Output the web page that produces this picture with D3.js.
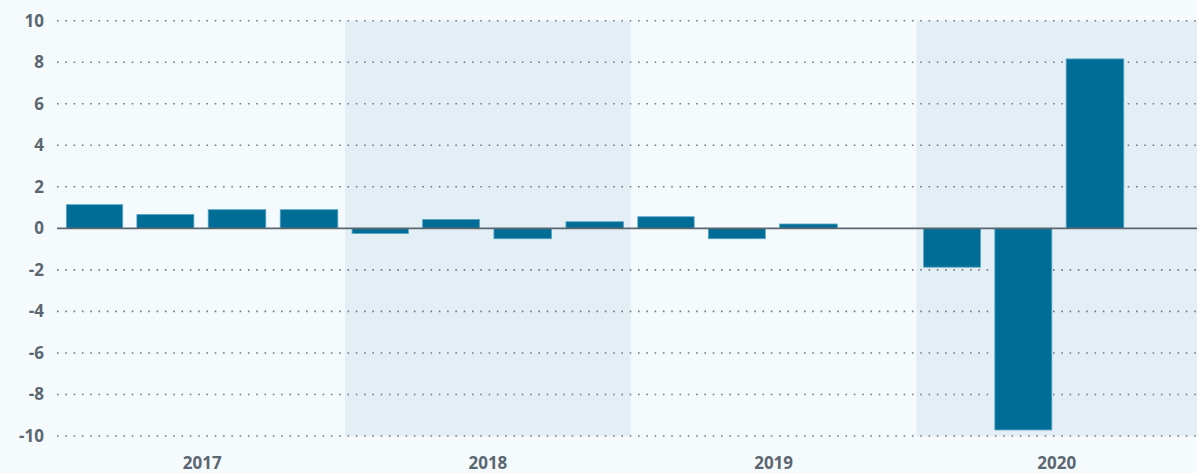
<!DOCTYPE html>
<html>
<head>
<meta charset="utf-8">
<script src="https://cdn.jsdelivr.net/npm/d3@7"></script>
<style>
    body { margin: 0; background: #f5fafd; }
    svg { display: block; }
    text { font-family: "Noto Sans", sans-serif; font-weight: 700; fill: #5b6770; }
</style>
</head>
<body>
<svg width="1197" height="473"></svg>
<script>
// quarterly values, 2017 Q1 .. 2020 Q4 (null = no bar)
const quarters = ["2017-01-01", "2017-04-01", "2017-07-01", "2017-10-01",
    "2018-01-01", "2018-04-01", "2018-07-01", "2018-10-01",
    "2019-01-01", "2019-04-01", "2019-07-01", "2019-10-01",
    "2020-01-01", "2020-04-01", "2020-07-01", "2020-10-01"];
const values = [1.14, 0.67, 0.9, 0.9,
    -0.25, 0.43, -0.5, 0.32,
    0.56, -0.5, 0.21, null,
    -1.87, -9.71, 8.16, null];
const years = ["2017", "2018", "2019", "2020"];
const shadedYears = ["2018", "2020"];
const yTicks = [-10, -8, -6, -4, -2, 0, 2, 4, 6, 8, 10];

const parse = d3.timeParse("%Y-%m-%d");
const width = 1197, height = 473;
const plotLeft = 57, plotRight = 1197;

var svg = d3.select("svg");

var xScale = d3.scaleTime()
    .domain([parse("2017-01-01"), parse("2021-01-01")])
    .range([59.3, 1203]);
var yScale = d3.scaleLinear().domain([-10, 10]).range([436, 20.7]);

// year bands
svg.append("g")
    .selectAll("rect")
    .data(shadedYears)
    .join("rect")
    .attr("x", d => xScale(parse(d + "-01-01")))
    .attr("width", d => Math.min(plotRight, xScale(parse((+d + 1) + "-01-01"))) - xScale(parse(d + "-01-01")))
    .attr("y", yScale(10))
    .attr("height", yScale(-10) - yScale(10))
    .style("fill", "#e4eef5");

// dotted grid
svg.append("g")
    .selectAll("line")
    .data(yTicks.filter(d => d !== 0))
    .join("line")
    .attr("x1", plotLeft)
    .attr("x2", plotRight)
    .attr("y1", d => yScale(d))
    .attr("y2", d => yScale(d))
    .style("stroke", "#6f7a83")
    .style("stroke-width", 1.6)
    .style("stroke-dasharray", "1.6,6.7");

// y labels
svg.append("g")
    .selectAll("text")
    .data(yTicks)
    .join("text")
    .attr("x", 44)
    .attr("y", d => yScale(d))
    .attr("dy", "0.35em")
    .attr("text-anchor", "end")
    .style("font-size", "17px")
    .text(d => d);

// bars
const barData = quarters.map((q, i) => ({ date: parse(q), value: values[i] }))
    .filter(d => d.value !== null);

svg.append("g")
    .selectAll("rect")
    .data(barData)
    .join("rect")
    .attr("x", d => {
        const x0 = xScale(d.date), x1 = xScale(d3.timeMonth.offset(d.date, 3));
        return x0 + (x1 - x0) * 0.1;
    })
    .attr("width", d => {
        const x0 = xScale(d.date), x1 = xScale(d3.timeMonth.offset(d.date, 3));
        return (x1 - x0) * 0.8;
    })
    .attr("y", d => yScale(Math.max(0, d.value)))
    .attr("height", d => Math.abs(yScale(d.value) - yScale(0)))
    .style("fill", "#006d97")
    .style("stroke", "#5aa6c6")
    .style("stroke-width", 0.8);

// zero line
svg.append("line")
    .attr("x1", plotLeft)
    .attr("x2", plotRight)
    .attr("y1", yScale(0))
    .attr("y2", yScale(0))
    .style("stroke", "#5b6770")
    .style("stroke-width", 1.6);

// year labels
svg.append("g")
    .selectAll("text")
    .data(years)
    .join("text")
    .attr("x", d => (xScale(parse(d + "-01-01")) + Math.min(plotRight, xScale(parse((+d + 1) + "-01-01")))) / 2)
    .attr("y", 463)
    .attr("dy", "0.35em")
    .attr("text-anchor", "middle")
    .style("font-size", "17px")
    .text(d => d);
</script>
</body>
</html>
